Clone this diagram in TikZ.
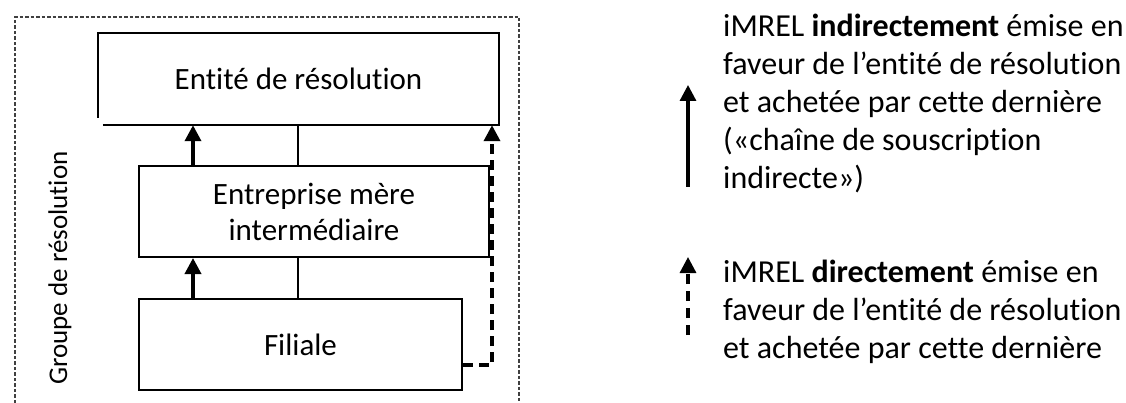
\documentclass[tikz,border=0pt]{standalone}
\usepackage{fontspec}
\setmainfont{Carlito}[Ligatures={NoCommon,NoRequired,NoContextual}]
\usetikzlibrary{arrows.meta,calc}
\begin{document}
\begin{tikzpicture}[x=1pt,y=-1pt,
  box/.style={draw=black,line width=2pt,inner sep=0pt,align=center,font=\fontsize{31}{36}\selectfont},
  thinline/.style={draw=black,line width=2pt},
  solidarr/.style={draw=black,line width=3.6pt,-{Triangle[length=16pt,width=16pt]}},
  dasharr/.style={draw=black,line width=3.6pt,dash pattern=on 10pt off 6pt,-{Triangle[length=16pt,width=16pt]}},
  frame/.style={draw=black!75,line width=1.4pt,dash pattern=on 3.5pt off 2pt},
  legend/.style={anchor=north west,align=left,inner sep=0pt,font=\fontsize{32}{38}\selectfont}]
\useasboundingbox (0,0) rectangle (1126,403);
% outer dashed frame (open at bottom)
\draw[frame] (15,403) -- (15,17) -- (519,17) -- (519,403);
% boxes
\node[inner sep=0pt,minimum width=401pt,minimum height=92pt,font=\fontsize{31}{36}\selectfont] (ent) at (298.5,79) {Entité de résolution};
\draw[line width=2pt] ($(ent.south west)+(5,0)$) -- (ent.south east) -- (ent.north east) -- (ent.north west) -- ($(ent.south west)+(0,-7)$);
\node[box,minimum width=350pt,minimum height=91pt] (emi) at (314,211.5) {Entreprise mère\\intermédiaire};
\node[box,minimum width=323pt,minimum height=91pt] (fil) at (300.5,344.5) {Filiale};
% connectors
\coordinate (c1) at (193,0);
\coordinate (c2) at (298,0);
\draw[solidarr] (emi.north -| c1) -- (ent.south -| c1);
\draw[thinline] (emi.north -| c2) -- (ent.south -| c2);
\draw[solidarr] (fil.north -| c1) -- (emi.south -| c1);
\draw[thinline] (fil.north -| c2) -- (emi.south -| c2);
\coordinate (dx) at (492,365);
\draw[dasharr] (fil.east |- dx) -- (dx) -- (ent.south -| dx);
% vertical label
\node[rotate=90,font=\fontsize{27}{32}\selectfont,inner sep=0pt] (grp) at (60,268) {Groupe de résolution};
% legend
\coordinate (la1) at (688,187);
\coordinate (lb1) at (688,85);
\draw[solidarr,line width=3.2pt] (la1) -- (lb1);
\coordinate (la2) at (688,335);
\coordinate (lb2) at (688,257);
\draw[dasharr,line width=3.2pt,dash pattern=on 10pt off 7pt] (la2) -- (lb2);
\node[legend] (t1) at (723,14) {iMREL \textbf{indirectement} émise en\\faveur de l’entité de résolution\\et achetée par cette dernière\\(«chaîne de souscription\\indirecte»)};
\node[legend] (t2) at (723,260) {iMREL \textbf{directement} émise en\\faveur de l’entité de résolution\\et achetée par cette dernière};
\end{tikzpicture}
\end{document}
